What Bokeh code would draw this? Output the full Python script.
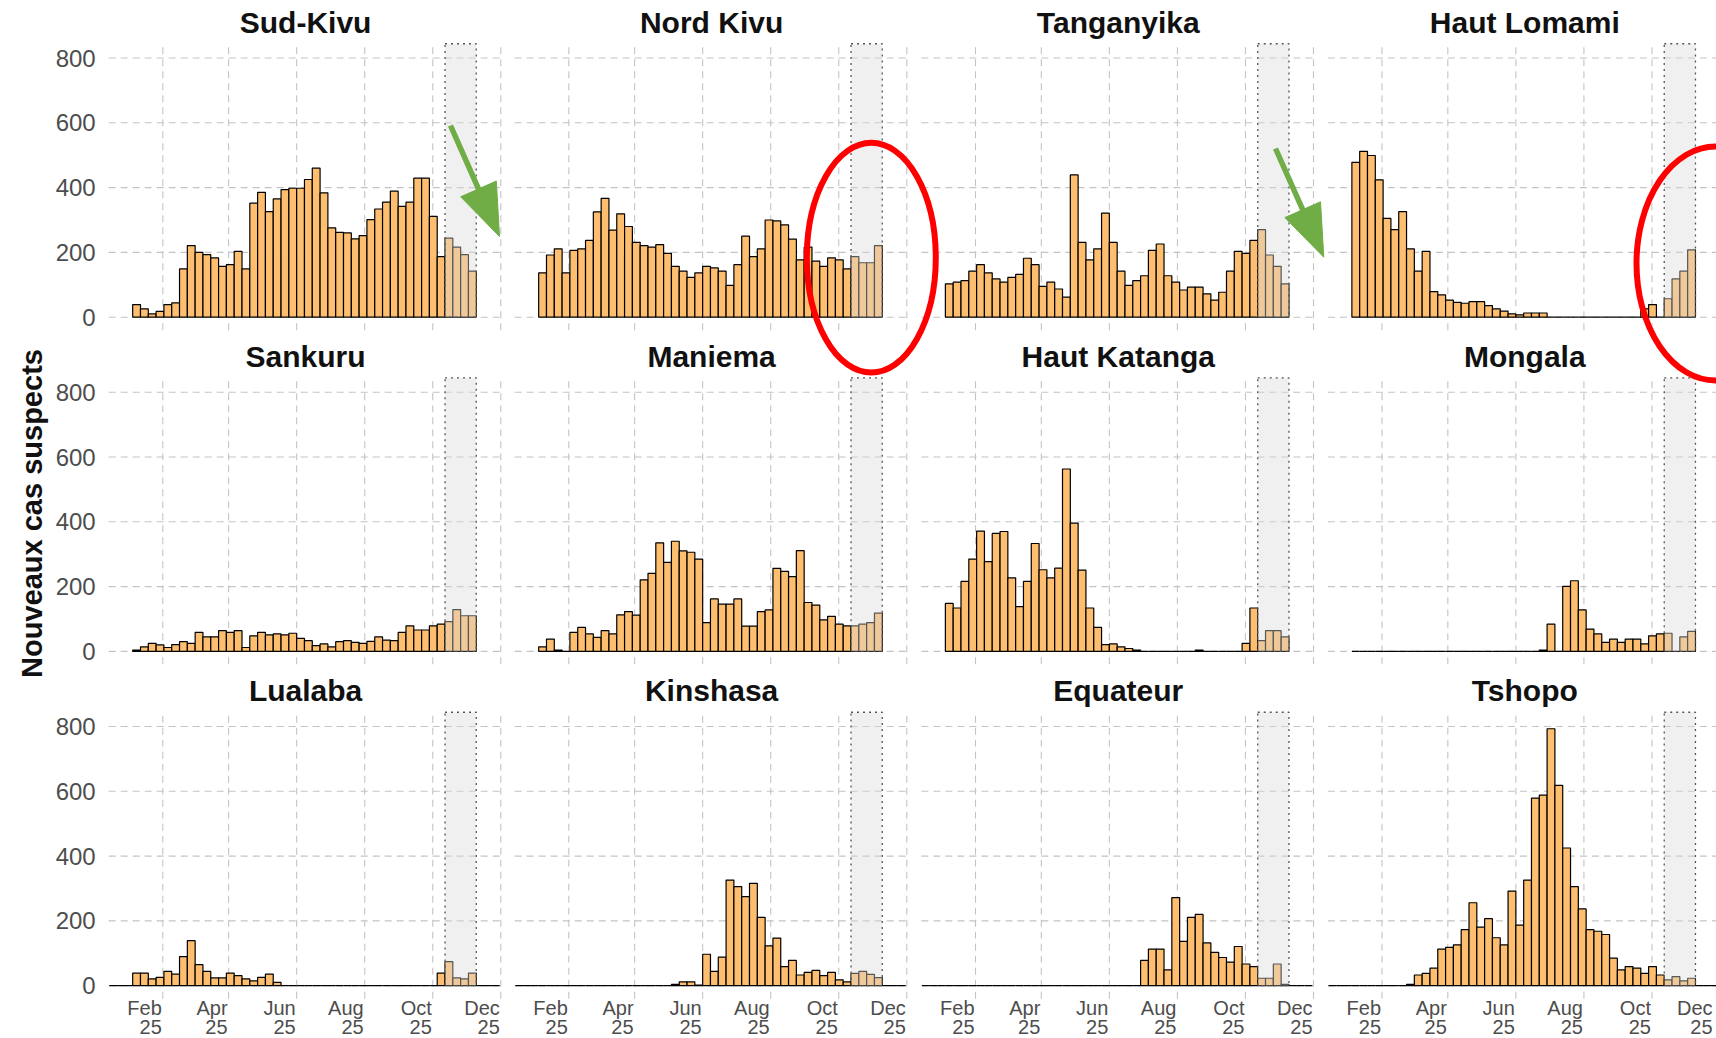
import math
import datetime as dt
from bokeh.plotting import figure
from bokeh.models import Range1d
from bokeh.embed import file_html
from bokeh.resources import INLINE
from bokeh.core.properties import value

# ---------------- data (weekly new suspected cases) ----------------
provinces = ["Sud-Kivu", "Nord Kivu", "Tanganyika", "Haut Lomami",
             "Sankuru", "Maniema", "Haut Katanga", "Mongala",
             "Lualaba", "Kinshasa", "Equateur", "Tshopo"]

start_short = "2025-01-05"   # first week shown for rows 1-2
start_long = "2024-12-15"    # first week shown for row 3

sud_kivu = [39, 26, 10, 18, 39, 44, 149, 221, 200, 193, 183, 157, 162, 203, 149,
            352, 385, 326, 365, 394, 398, 398, 425, 460, 384, 276, 262, 260, 242,
            252, 301, 334, 355, 389, 342, 355, 429, 429, 311, 187, 244, 216, 193, 142]
nord_kivu = [137, 192, 211, 137, 206, 211, 237, 325, 367, 269, 319, 280, 231, 221, 216,
             224, 197, 157, 142, 123, 137, 157, 152, 142, 98, 162, 250, 187, 211, 300,
             297, 285, 241, 177, 216, 173, 157, 183, 177, 149, 187, 168, 168, 221]
tanganyika = [103, 108, 113, 142, 162, 137, 118, 108, 123, 132, 182, 162, 95, 108, 87,
              62, 439, 231, 177, 211, 321, 231, 142, 98, 113, 128, 206, 226, 128, 108,
              84, 93, 93, 72, 53, 77, 142, 203, 197, 237, 270, 192, 157, 103]
haut_lomami = [478, 512, 499, 424, 305, 270, 326, 211, 142, 203, 79, 69, 53, 46, 43,
               48, 48, 36, 26, 19, 10, 7, 13, 13, 13, 0, 0, 0, 0, 0, 0, 0, 0, 0, 0,
               0, 0, 26, 39, 0, 57, 118, 142, 208]
sankuru = [4, 14, 25, 20, 12, 21, 30, 25, 59, 45, 45, 64, 59, 64, 12, 48, 59, 51, 54,
           51, 56, 40, 33, 18, 23, 14, 30, 33, 28, 25, 31, 45, 35, 33, 59, 79, 66, 66,
           79, 84, 92, 129, 110, 110]
maniema = [14, 38, 4, 0, 59, 74, 54, 43, 64, 54, 113, 123, 112, 221, 241, 335, 275,
           340, 310, 306, 285, 89, 162, 146, 146, 162, 78, 78, 123, 128, 256, 247, 231,
           311, 151, 143, 97, 108, 84, 79, 79, 84, 89, 118]
haut_katanga = [148, 134, 216, 285, 371, 277, 364, 370, 227, 138, 216, 333, 252, 227,
                257, 563, 396, 251, 134, 74, 21, 23, 14, 9, 4, 0, 0, 0, 0, 0, 0, 0, 4,
                0, 0, 0, 0, 0, 25, 134, 33, 64, 64, 45]
mongala = [0, 0, 0, 0, 0, 0, 0, 0, 0, 0, 0, 0, 0, 0, 0, 0, 0, 0, 0, 0, 0, 0, 0, 0,
           4, 84, 0, 201, 218, 128, 69, 54, 28, 38, 28, 38, 38, 23, 48, 54, 56, 0, 45, 62]
lualaba = [0, 0, 0, 39, 39, 21, 26, 44, 36, 90, 139, 65, 44, 24, 24, 39, 31, 21, 15, 26,
           36, 10, 0, 0, 0, 0, 0, 0, 0, 0, 0, 0, 0, 0, 0, 0, 0, 0, 0, 0, 0, 0,
           39, 74, 24, 21, 39, 0, 0, 0]
kinshasa = [0, 0, 0, 0, 0, 0, 0, 0, 0, 0, 0, 0, 0, 0, 0, 0, 0, 0, 0, 0,
            4, 12, 12, 2, 97, 44, 88, 326, 306, 275, 316, 211, 123, 147, 59, 78, 33, 41,
            47, 31, 41, 18, 12, 38, 44, 35, 25, 0, 0, 0]
equateur = [0, 0, 0, 0, 0, 0, 0, 0, 0, 0, 0, 0, 0, 0, 0, 0, 0, 0, 0, 0, 0, 0, 0, 0,
            0, 0, 0, 0, 78, 113, 113, 49, 272, 137, 211, 220, 132, 103, 87, 73, 121, 67,
            59, 23, 23, 67, 4, 0, 0, 0]
tshopo = [0, 0, 0, 0, 0, 0, 0, 0, 0, 0, 4, 33, 38, 54, 113, 118, 126, 173, 256, 181,
          207, 148, 126, 292, 187, 326, 579, 588, 793, 618, 425, 306, 237, 173, 168, 158,
          85, 49, 59, 54, 38, 59, 33, 18, 28, 15, 23, 0, 0, 0]

series_values = {"Sud-Kivu": sud_kivu, "Nord Kivu": nord_kivu, "Tanganyika": tanganyika,
                 "Haut Lomami": haut_lomami, "Sankuru": sankuru, "Maniema": maniema,
                 "Haut Katanga": haut_katanga, "Mongala": mongala, "Lualaba": lualaba,
                 "Kinshasa": kinshasa, "Equateur": equateur, "Tshopo": tshopo}
series_start = {"Sud-Kivu": start_short, "Nord Kivu": start_short, "Tanganyika": start_short,
                "Haut Lomami": start_short, "Sankuru": start_short, "Maniema": start_short,
                "Haut Katanga": start_short, "Mongala": start_short, "Lualaba": start_long,
                "Kinshasa": start_long, "Equateur": start_long, "Tshopo": start_long}

shade_start, shade_end = "2025-10-12", "2025-11-09"

month_ticks = ["2025-02-01", "2025-04-01", "2025-06-01", "2025-08-01", "2025-10-01", "2025-12-01"]
month_labels = ["Feb", "Apr", "Jun", "Aug", "Oct", "Dec"]
year_labels = ["25", "25", "25", "25", "25", "25"]
y_ticks = [0, 200, 400, 600, 800]
y_tick_labels = ["0", "200", "400", "600", "800"]
y_title = "Nouveaux cas suspects"

# ---------------- layout / style ----------------
W_REF, H_REF = 1716, 1038
FONT = value("Liberation Sans")
BAR = "#FDBF6F"
GRID = "#C4C4C4"
TICK = "#4D4D4D"

origin = dt.date(2025, 1, 1)


def day(s):
    return (dt.date.fromisoformat(s) - origin).days


col_feb_x = [162.3, 568.3, 975.0, 1381.5]
feb_dec_px = 338.0
row_zero_y = [316.7, 650.9, 985.2]
px_800 = 259.2
X_LO, X_HI = -17.5, 335.5
Y_LO, Y_HI = -40, 844

p = figure(width=W_REF, height=H_REF, x_range=Range1d(0, W_REF), y_range=Range1d(0, H_REF),
           x_axis_location=None, y_axis_location=None, toolbar_location=None,
           output_backend="svg", min_border=0, outline_line_color=None,
           background_fill_color="white", border_fill_color="white")
p.grid.grid_line_color = None
p.grid.visible = False

tick_d = [day(t) for t in month_ticks]
d_feb, d_dec = day(month_ticks[0]), day(month_ticks[-1])

for k, name in enumerate(provinces):
    r, c = divmod(k, 4)
    sub = p.subplot(
        x_source=Range1d(d_feb, d_dec),
        y_source=Range1d(0, 800),
        x_target=Range1d(col_feb_x[c], col_feb_x[c] + feb_dec_px),
        y_target=Range1d(H_REF - row_zero_y[r], H_REF - row_zero_y[r] + px_800),
    )
    # grid
    sub.segment(x0=tick_d, y0=[Y_LO] * len(tick_d), x1=tick_d, y1=[Y_HI] * len(tick_d),
                line_color=GRID, line_width=1.1, line_dash="7 5")
    sub.segment(x0=[X_LO] * len(y_ticks), y0=y_ticks, x1=[X_HI] * len(y_ticks), y1=y_ticks,
                line_color=GRID, line_width=1.1, line_dash="7 5")
    # bars
    vals = series_values[name]
    d0 = day(series_start[name])
    left = [d0 + 7 * i for i in range(len(vals))]
    right = [x + 7 for x in left]
    sub.quad(left=left, right=right, bottom=[0] * len(vals), top=vals,
             fill_color=BAR, line_color="black", line_width=1.2)
    # recent (incomplete) weeks
    sub.quad(left=[day(shade_start)], right=[day(shade_end)], bottom=[0], top=[Y_HI],
             fill_color="#D9D9D9", fill_alpha=0.4, line_color="#555555",
             line_dash="dotted", line_width=1.3)
    # strip title
    sub.text(x=[(X_LO + X_HI) / 2], y=[910], text=[name], text_font=FONT,
             text_font_size="30px", text_font_style="bold", text_color="#111111",
             text_align="center", text_baseline="middle")
    if c == 0:
        sub.text(x=[X_LO] * len(y_ticks), y=y_ticks, text=y_tick_labels, x_offset=-13,
                 text_font=FONT, text_font_size="24px", text_color=TICK,
                 text_align="right", text_baseline="middle")
    if r == 2:
        # keep labels inside the page (the reference crops the last one)
        offs = []
        for d in tick_d:
            xpix = col_feb_x[c] + (d - d_feb) * feb_dec_px / (d_dec - d_feb)
            offs.append(-1 - max(0.0, xpix - (W_REF - 3)))
        sub.text(x=tick_d, y=[-70] * len(tick_d), text=month_labels, x_offset=offs,
                 text_font=FONT, text_font_size="20px", text_color=TICK,
                 text_align="right", text_baseline="middle")
        sub.text(x=tick_d, y=[-128] * len(tick_d), text=year_labels, x_offset=offs,
                 text_font=FONT, text_font_size="20px", text_color=TICK,
                 text_align="right", text_baseline="middle")

# y axis title
p.text(x=[31], y=[H_REF - 513], text=[y_title], angle=math.pi / 2, text_font=FONT,
       text_font_size="29px", text_font_style="bold", text_color="#111111",
       text_align="center", text_baseline="middle")

# ---------------- annotations ----------------
# red ellipses (reference pixel coordinates)
ell_x = [870.8, 1715.0]
ell_y = [257.2, 263.0]
ell_w = [129.0, 158.0]
ell_h = [229.7, 234.0]
p.ellipse(x=ell_x, y=[H_REF - v for v in ell_y], width=ell_w, height=ell_h,
          fill_color=None, line_color="#FF0000", line_width=6)

# green arrows: (start, tip)
arrows = [((450.0, 125.0), (499.0, 236.0)), ((1275.0, 148.0), (1323.3, 256.7))]
HEAD_L, HEAD_W = 52.0, 39.0
GREEN = "#70AD47"
for (sx, sy), (tx, ty) in arrows:
    dx, dy = tx - sx, ty - sy
    ln = math.hypot(dx, dy)
    ux, uy = dx / ln, dy / ln
    mx, my = tx - HEAD_L * ux, ty - HEAD_L * uy
    nx, ny = -uy, ux
    p.line(x=[sx, mx + 3 * ux], y=[H_REF - sy, H_REF - (my + 3 * uy)],
           line_color=GREEN, line_width=5.5, line_cap="butt")
    hx = [tx, mx + HEAD_W / 2 * nx, mx - HEAD_W / 2 * nx]
    hy = [ty, my + HEAD_W / 2 * ny, my - HEAD_W / 2 * ny]
    p.patch(x=hx, y=[H_REF - v for v in hy], fill_color=GREEN, line_color=GREEN,
            line_width=1)

open("out.html", "w").write(file_html(p, INLINE))
